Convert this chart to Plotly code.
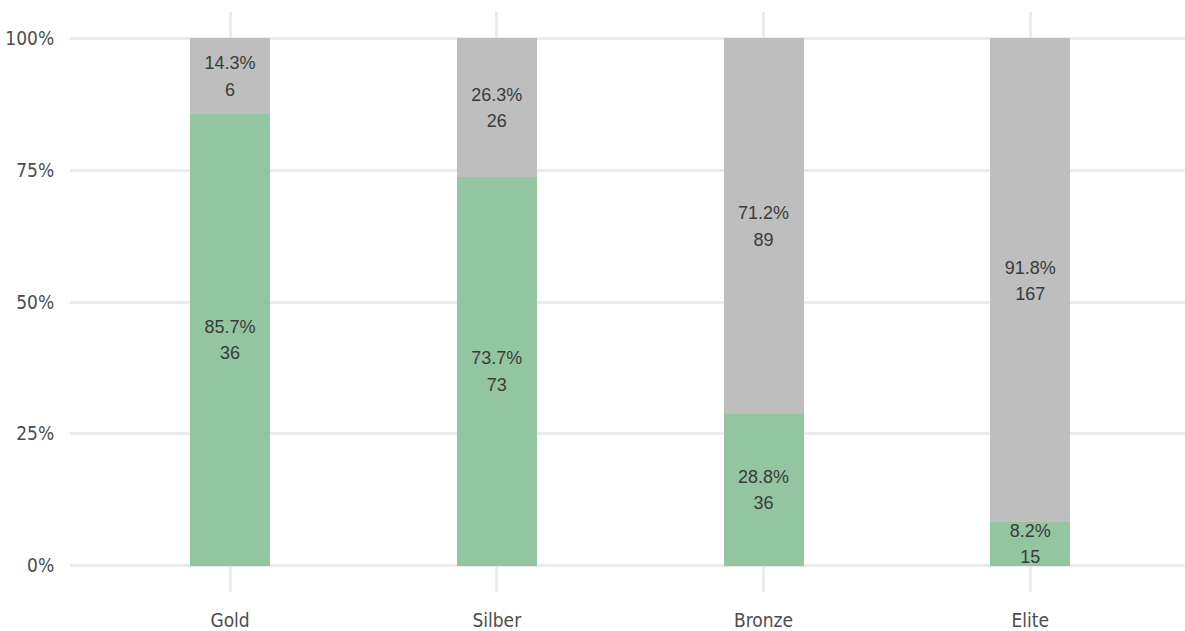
import plotly.graph_objects as go

categories = ["Gold", "Silber", "Bronze", "Elite"]
green_counts = [36, 73, 36, 15]
grey_counts = [6, 26, 89, 167]
y_tick_vals = [0, 0.25, 0.5, 0.75, 1.0]
y_tick_text = ["0%", "25%", "50%", "75%", "100%"]

GREEN = "#93C6A0"
GREY = "#BEBEBE"
TEXT = "#3A3A3A"
AXIS_TEXT = "#4D4D4D"
GRID = "#EBEBEB"

totals = [g + r for g, r in zip(green_counts, grey_counts)]
green_frac = [g / t for g, t in zip(green_counts, totals)]
grey_frac = [r / t for r, t in zip(grey_counts, totals)]

fig = go.Figure()
fig.add_bar(x=categories, y=green_frac, marker_color=GREEN, width=0.3,
            marker_line_width=0, showlegend=False, hoverinfo="skip")
fig.add_bar(x=categories, y=grey_frac, marker_color=GREY, width=0.3,
            marker_line_width=0, showlegend=False, hoverinfo="skip")

centers = []
pct_labels = []
cnt_labels = []
xs = []
for i, c in enumerate(categories):
    gf, rf = green_frac[i], grey_frac[i]
    xs += [c, c]
    centers += [gf / 2, gf + rf / 2]
    pct_labels += [f"{gf*100:.1f}%", f"{rf*100:.1f}%"]
    cnt_labels += [str(green_counts[i]), str(grey_counts[i])]

LABEL_FONT = dict(family="Liberation Sans", size=18, color=TEXT)

fig.add_scatter(x=xs, y=centers, mode="markers+text", text=pct_labels,
                textposition="top center",
                marker=dict(size=2, color="rgba(0,0,0,0)"),
                textfont=LABEL_FONT,
                showlegend=False, hoverinfo="skip", cliponaxis=False)
fig.add_scatter(x=xs, y=centers, mode="markers+text", text=cnt_labels,
                textposition="bottom center",
                marker=dict(size=8, color="rgba(0,0,0,0)"),
                textfont=LABEL_FONT,
                showlegend=False, hoverinfo="skip", cliponaxis=False)

fig.update_layout(
    barmode="stack",
    width=1185, height=631,
    margin=dict(l=70, r=0, t=12, b=37),
    plot_bgcolor="white", paper_bgcolor="white",
    font=dict(family="DejaVu Sans Condensed", size=19, color=AXIS_TEXT),
    xaxis=dict(range=[-0.6, 3.58], showgrid=True, gridcolor=GRID, gridwidth=2.5,
               zeroline=False, showline=False, ticks="outside", ticklen=11,
               tickcolor="rgba(0,0,0,0)", fixedrange=True),
    yaxis=dict(range=[-0.05, 1.05], tickvals=y_tick_vals, ticktext=y_tick_text,
               showgrid=True, gridcolor=GRID, gridwidth=2.5, zeroline=False,
               showline=False, ticks="outside", ticklen=11,
               tickcolor="rgba(0,0,0,0)", fixedrange=True),
)

fig.write_html("out.html")
